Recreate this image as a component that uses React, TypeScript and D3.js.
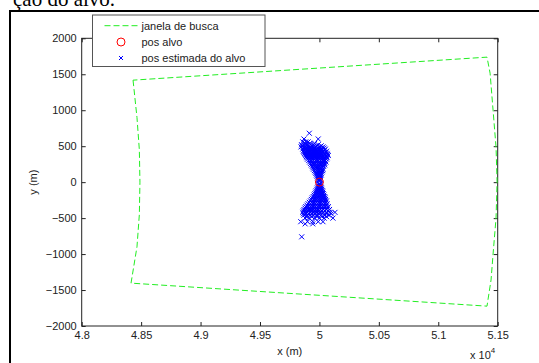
import React, { useEffect, useRef } from "react";
import * as d3 from "d3";

// search window (green dashed polygon), metres
const windowX = [48432, 48465, 48485, 48490, 48485, 48465, 48415, 51410, 51444, 51461, 51486, 51495, 51486, 51461, 51436, 51410, 48432];
const windowY = [1418, 900, 450, 0, -450, -900, -1404, -1724, -1360, -1000, -500, 0, 487, 1000, 1515, 1738, 1418];

// true target position
const targetX = [50000];
const targetY = [0];

// estimated positions, read row by row (y, then x values)
const estRows: [number, number[]][] = [
  [680, [49915]],
  [600, [49990, 49870]],
  [560, [49860, 49885, 49905]],
  [540, [49880, 49920, 49960]],
  [520, [49850, 49870, 49895, 49925, 49950, 49990]],
  [505, [49855, 49890, 49935, 49975, 50015]],
  [490, [49845, 49865, 49880, 49900, 49920, 49945, 49965, 50000, 50030]],
  [475, [49870, 49890, 49910, 49930, 49960, 49985, 50010, 50040]],
  [460, [49860, 49880, 49900, 49915, 49935, 49955, 49975, 49995, 50020, 50050]],
  [445, [49870, 49895, 49915, 49935, 49955, 49975, 49995, 50015, 50045]],
  [430, [49865, 49885, 49905, 49925, 49945, 49965, 49985, 50005, 50030, 50060]],
  [415, [49870, 49890, 49910, 49930, 49950, 49970, 49990, 50010, 50030, 50055]],
  [400, [49875, 49895, 49915, 49935, 49955, 49975, 49995, 50015, 50040, 50065]],
  [385, [49880, 49900, 49920, 49940, 49960, 49980, 50000, 50020, 50045, 50070]],
  [370, [49885, 49905, 49925, 49945, 49965, 49985, 50005, 50030, 50055, 50075]],
  [355, [49890, 49910, 49930, 49950, 49970, 49990, 50010, 50035, 50060]],
  [340, [49895, 49915, 49935, 49955, 49975, 49995, 50015, 50040, 50065]],
  [320, [49900, 49920, 49940, 49960, 49980, 50000, 50020, 50040, 50060]],
  [300, [49910, 49930, 49950, 49970, 49990, 50010, 50030, 50050]],
  [280, [49918, 49938, 49958, 49978, 49998, 50018, 50038, 50055]],
  [260, [49925, 49945, 49965, 49985, 50005, 50025, 50045]],
  [240, [49932, 49952, 49972, 49992, 50012, 50030, 50045]],
  [220, [49940, 49960, 49980, 50000, 50020, 50035]],
  [200, [49945, 49965, 49985, 50005, 50025]],
  [180, [49950, 49970, 49990, 50010, 50030]],
  [160, [49958, 49978, 49998, 50015, 50028]],
  [140, [49965, 49985, 50005, 50020]],
  [120, [49970, 49985, 50000, 50015]],
  [100, [49975, 49990, 50005, 50015]],
  [80, [49980, 49995, 50008]],
  [60, [49985, 50000, 50010]],
  [40, [49990, 50000, 50008]],
  [25, [49992, 50004]],
  [-25, [49995, 50006]],
  [-40, [49992, 50003, 50010]],
  [-60, [49988, 50000, 50012]],
  [-80, [49983, 49996, 50008, 50016]],
  [-100, [49978, 49993, 50008, 50020]],
  [-120, [49972, 49988, 50003, 50018, 50026]],
  [-140, [49968, 49985, 50000, 50015, 50028]],
  [-160, [49962, 49978, 49995, 50010, 50025, 50033]],
  [-180, [49955, 49972, 49990, 50005, 50022, 50038]],
  [-200, [49948, 49965, 49982, 50000, 50018, 50035, 50045]],
  [-220, [49940, 49960, 49978, 49995, 50012, 50030, 50048]],
  [-240, [49932, 49952, 49972, 49992, 50012, 50032, 50052]],
  [-260, [49925, 49945, 49965, 49985, 50005, 50025, 50045, 50060]],
  [-280, [49915, 49935, 49955, 49975, 49995, 50015, 50035, 50055]],
  [-300, [49905, 49925, 49945, 49965, 49985, 50005, 50025, 50045, 50065]],
  [-320, [49895, 49915, 49935, 49955, 49975, 49995, 50015, 50035, 50058]],
  [-340, [49885, 49905, 49925, 49945, 49965, 49985, 50005, 50025, 50050, 50075]],
  [-360, [49878, 49898, 49918, 49938, 49958, 49978, 49998, 50018, 50042, 50068]],
  [-380, [49870, 49890, 49910, 49930, 49950, 49970, 49990, 50010, 50035, 50060, 50085]],
  [-400, [49865, 49885, 49905, 49928, 49952, 49975, 49998, 50022, 50048, 50075]],
  [-420, [49860, 49880, 49900, 49925, 49950, 49975, 50000, 50030, 50060, 50090, 50131]],
  [-440, [49865, 49888, 49912, 49938, 49965, 49995, 50025, 50060, 50100]],
  [-460, [49870, 49895, 49920, 49950, 49980, 50010, 50045, 50080]],
  [-480, [49890, 49935, 49980, 50020, 50060]],
  [-500, [49880, 49915, 49960, 50000, 50040, 50114]],
  [-550, [49843, 49900, 49944, 49990, 50030]],
  [-580, [49944, 49880]],
  [-760, [49851]],
];

const xTicks = [48000, 48500, 49000, 49500, 50000, 50500, 51000, 51500];
const yTicks = [2000, 1500, 1000, 500, 0, -500, -1000, -1500, -2000];
const legendLabels = ["janela de busca", "pos alvo", "pos estimada do alvo"];

const FONT = "'Liberation Sans', Arial, sans-serif";

export default function App() {
  const ref = useRef<SVGSVGElement>(null);

  useEffect(() => {
    const svg = d3.select(ref.current);
    svg.selectAll("*").remove();

    const left = 81.7, right = 497.7, top = 38.3, bottom = 326;
    const x = d3.scaleLinear().domain([48000, 51500]).range([left, right]);
    const y = d3.scaleLinear().domain([-2000, 2000]).range([bottom, top]);

    // page frame + caption cut off by the page top
    svg.append("text")
      .attr("x", 13).attr("y", 6)
      .attr("font-family", "'Liberation Serif', 'Times New Roman', serif")
      .attr("font-size", 21).attr("fill", "#000")
      .text("ção do alvo.");
    svg.append("path")
      .attr("d", `M10,${363}V11H539`)
      .attr("fill", "none").attr("stroke", "#000").attr("stroke-width", 2);

    const styleAxis = (g: any, labels: boolean) => {
      g.select(".domain").remove();
      g.selectAll(".tick line").attr("stroke", "#222");
      g.selectAll("text").attr("fill", "#222").style("font-family", FONT).style("font-size", "11px");
      if (!labels) g.selectAll("text").remove();
    };

    svg.append("g").attr("transform", `translate(0,${bottom})`)
      .call(d3.axisBottom(x).tickValues(xTicks).tickSize(-4).tickPadding(5).tickFormat((d) => `${+d / 1e4}`))
      .call((g) => styleAxis(g, true));
    svg.append("g").attr("transform", `translate(0,${top})`)
      .call(d3.axisTop(x).tickValues(xTicks).tickSize(-4))
      .call((g) => styleAxis(g, false));
    svg.append("g").attr("transform", `translate(${left},0)`)
      .call(d3.axisLeft(y).tickValues(yTicks).tickSize(-4).tickPadding(5).tickFormat(d3.format("d")))
      .call((g) => styleAxis(g, true));
    svg.append("g").attr("transform", `translate(${right},0)`)
      .call(d3.axisRight(y).tickValues(yTicks).tickSize(-4))
      .call((g) => styleAxis(g, false));

    svg.append("rect")
      .attr("x", left).attr("y", top)
      .attr("width", right - left).attr("height", bottom - top)
      .attr("fill", "none").attr("stroke", "#222").attr("stroke-width", 1);

    // search window
    const line = d3.line<number>().x((_, i) => x(windowX[i])).y((_, i) => y(windowY[i]));
    svg.append("path")
      .attr("d", line(windowX))
      .attr("fill", "none").attr("stroke", "#22ee22").attr("stroke-width", 1)
      .attr("stroke-dasharray", "6,3");

    // estimated positions
    const pts = estRows.flatMap(([yy, xs]) => xs.map((xx) => [xx, yy]));
    svg.append("g").selectAll("path").data(pts).join("path")
      .attr("transform", (d) => `translate(${x(d[0])},${y(d[1])})`)
      .attr("d", "M-2.5,-2.5L2.5,2.5M-2.5,2.5L2.5,-2.5")
      .attr("stroke", "#0000ff").attr("stroke-width", 1).attr("fill", "none");

    // target
    svg.append("g").selectAll("circle").data(targetX).join("circle")
      .attr("cx", (d) => x(d)).attr("cy", (_, i) => y(targetY[i]))
      .attr("r", 4).attr("fill", "none").attr("stroke", "#ff0000").attr("stroke-width", 1);

    // legend
    const lg = svg.append("g").attr("transform", "translate(92.5,15)");
    lg.append("rect").attr("width", 172.5).attr("height", 51.5)
      .attr("fill", "#fff").attr("stroke", "#555").attr("stroke-width", 1);
    const rowY = [10.7, 27, 43];
    lg.selectAll("text").data(legendLabels).join("text")
      .attr("x", 49).attr("y", (_, i) => rowY[i]).attr("dy", "0.35em")
      .attr("font-family", FONT).attr("font-size", 11).attr("fill", "#222")
      .text((d) => d);
    lg.append("line").attr("x1", 12).attr("x2", 48).attr("y1", rowY[0]).attr("y2", rowY[0])
      .attr("stroke", "#22ee22").attr("stroke-dasharray", "6,3");
    lg.append("circle").attr("cx", 28.5).attr("cy", rowY[1]).attr("r", 4)
      .attr("fill", "none").attr("stroke", "#ff0000");
    lg.append("path").attr("transform", `translate(28.5,${rowY[2]})`)
      .attr("d", "M-2,-2L2,2M-2,2L2,-2").attr("stroke", "#0000ff").attr("fill", "none");

    // axis labels
    svg.append("text").attr("x", (left + right) / 2).attr("y", 355)
      .attr("text-anchor", "middle").attr("font-family", FONT).attr("font-size", 11).attr("fill", "#222")
      .text("x (m)");
    svg.append("text").attr("transform", `translate(37,${(top + bottom) / 2}) rotate(-90)`)
      .attr("text-anchor", "middle").attr("font-family", FONT).attr("font-size", 11).attr("fill", "#222")
      .text("y (m)");
    const mult = svg.append("text").attr("x", 470).attr("y", 359)
      .attr("font-family", FONT).attr("font-size", 11).attr("fill", "#222");
    mult.append("tspan").text("x 10");
    mult.append("tspan").attr("dy", -6).attr("font-size", 8).text("4");
  }, []);

  return (
    <svg ref={ref} width={539} height={363}
      style={{ position: "fixed", left: 0, top: 0, background: "#fff" }} />
  );
}
